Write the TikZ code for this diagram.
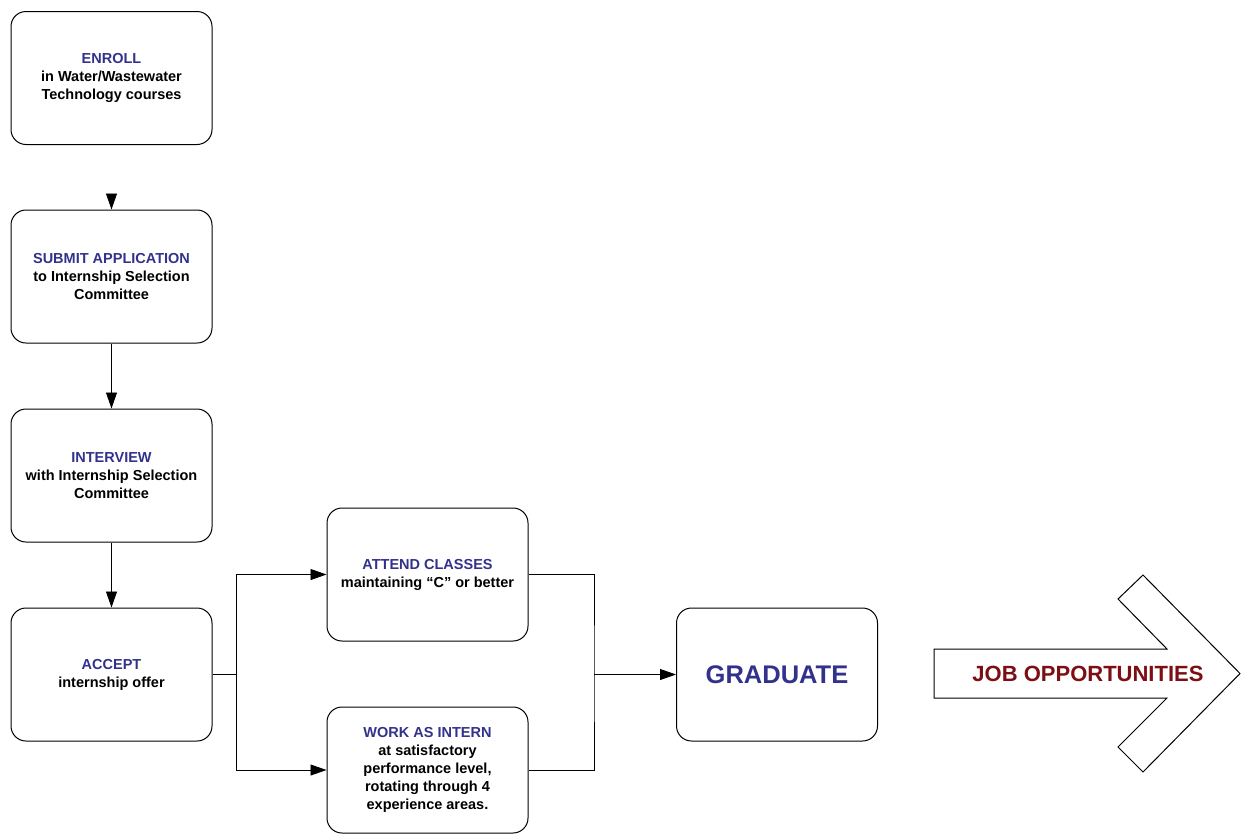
\documentclass[tikz,border=0pt]{standalone}
\usepackage{fontspec}
\setmainfont{Liberation Sans}
\usetikzlibrary{arrows.meta}
\definecolor{headblue}{RGB}{50,50,140}
\definecolor{jobred}{RGB}{125,15,20}
\tikzset{
	stagebox/.style={draw,line width=1pt,rounded corners=15pt,minimum width=201pt,minimum height=133pt,align=center,font=\fontsize{14.5}{18}\selectfont\bfseries},
	flow/.style={line width=.8pt,-{Triangle[length=16pt,width=11pt]}},
	link/.style={line width=.8pt}
}
\newcommand{\stagehead}[1]{\textcolor{headblue}{#1}}
\begin{document}
\begin{tikzpicture}[x=1pt,y=-1pt]
		\useasboundingbox (0,0) rectangle (1241,836);
		\node[stagebox] (enroll) at (111.5,78) {\stagehead{ENROLL}\\in Water/Wastewater\\Technology courses};
		\node[stagebox] (submit) at (111.5,276.5) {\stagehead{SUBMIT APPLICATION}\\to Internship Selection\\Committee};
		\node[stagebox] (interview) at (111.5,475.5) {\stagehead{INTERVIEW}\\with Internship Selection\\Committee};
		\node[stagebox] (accept) at (111.5,674.5) {\stagehead{ACCEPT}\\internship offer};
		\node[stagebox] (attend) at (427.5,574.5) {\stagehead{ATTEND CLASSES}\\maintaining ``C'' or better};
		\node[stagebox,minimum height=126pt] (work) at (427.5,770) {\stagehead{WORK AS INTERN}\\at satisfactory\\performance level,\\rotating through 4\\experience areas.};
		\node[stagebox,font=\fontsize{25.5}{29}\selectfont\bfseries,text=headblue] (graduate) at (777,674.5) {GRADUATE};
		\coordinate (drop) at (111.5,194);
		\coordinate (split) at (236,674.5);
		\coordinate (join) at (594,674.5);
		\draw[flow] (drop)--(submit.north);
		\draw[flow] (submit)--(interview);
		\draw[flow] (interview)--(accept);
		\draw[link] (accept.east)--(split);
		\draw[flow] (split)|-(attend.west);
		\draw[flow] (split)|-(work.west);
		\draw[link] (attend.east)-|(join)|-(work.east);
		\draw[flow] (join)--(graduate.west);
		% big arrow
		\draw[line width=1pt,fill=white] (934,649)--(1167,649)--(1118,599)--(1143,575)--(1240,673.5)--(1143,772)--(1118,747)--(1167,698)--(934,698)--cycle;
		\node[font=\fontsize{22}{26}\selectfont\bfseries,text=jobred] (jobs) at (1088,673.5) {JOB OPPORTUNITIES};
\end{tikzpicture}
\end{document}
